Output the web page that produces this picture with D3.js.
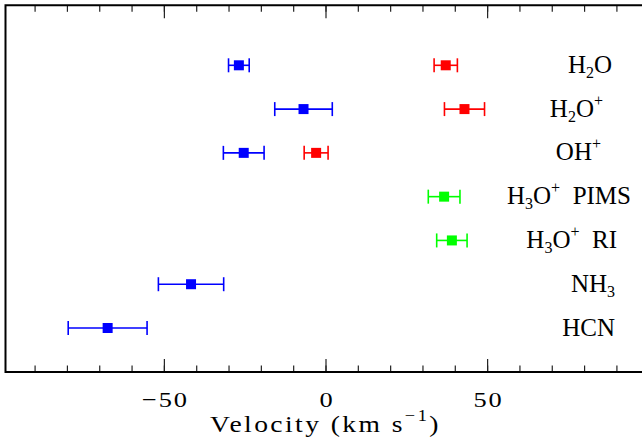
<!DOCTYPE html>
<html>
<head>
<meta charset="utf-8">
<script src="https://cdn.jsdelivr.net/npm/d3@7"></script>
<style>
  html, body { margin: 0; padding: 0; background: #fff; }
  svg { display: block; }
  text { font-family: "Liberation Serif", "Times New Roman", serif; fill: #000; }
</style>
</head>
<body>
<svg id="chart" width="642" height="444"></svg>
<script>
// Species observed, top to bottom
const species = ["H2O", "H2O+", "OH+", "H3O+  PIMS", "H3O+  RI", "NH3", "HCN"];

// Blue-shifted component: velocity and half-width (km/s)
const blueVelocity = [-26.8, -6.8, -25.3, null, null, -41.6, -67.4];
const blueError    = [3.2, 8.9, 6.3, null, null, 10.1, 12.2];

// Red-shifted component
const redVelocity  = [37.2, 43.0, -2.9, null, null, null, null];
const redError     = [3.6, 6.2, 3.7, null, null, null, null];

// H3O+ measurements
const greenVelocity = [null, null, null, 36.7, 39.1, null, null];
const greenError    = [null, null, null, 4.9, 4.7, null, null];

// Axis ticks
const majorTicks = [-50, 0, 50];
const minorTicks = [-90, -80, -70, -60, -50, -40, -30, -20, -10, 0, 10, 20, 30, 40, 50, 60, 70, 80, 90];
const xTitle = "Velocity (km s";
const xTitleExp = "\u22121";

// Build one flat table of measurements
const series = [
  { color: "#0000ff", v: blueVelocity, e: blueError },
  { color: "#ff0000", v: redVelocity, e: redError },
  { color: "#00ff00", v: greenVelocity, e: greenError }
];
const points = [];
series.forEach(s => s.v.forEach((v, i) => {
  if (v != null) points.push({ species: species[i], v, e: s.e[i], color: s.color });
}));

const svg = d3.select("#chart");
const frameL = 5.5, frameR = 645.5, frameT = 5.3, frameB = 372;

const x = d3.scaleLinear().domain([-99, 99]).range([frameL, frameR]);
const y = d3.scalePoint().domain(species).range([65.3, 328]);

// Ticks on the top and bottom frames, pointing inward
function tickAxis(axisFn, vals, size, ypos) {
  const g = svg.append("g")
    .attr("transform", `translate(0,${ypos})`)
    .call(axisFn(x).tickValues(vals).tickSize(size).tickFormat(""));
  g.select(".domain").remove();
  g.selectAll(".tick line").attr("stroke", "#222").attr("stroke-width", 1.2);
  return g;
}
tickAxis(d3.axisBottom, minorTicks, 6.5, frameT);
tickAxis(d3.axisBottom, majorTicks, 13, frameT);
tickAxis(d3.axisTop, minorTicks, 6.5, frameB);
tickAxis(d3.axisTop, majorTicks, 13, frameB);

// Tick labels
const lab = svg.append("g")
  .attr("transform", `translate(0,${frameB})`)
  .call(d3.axisBottom(x).tickValues(majorTicks).tickSize(0).tickFormat(d3.format("d")));
lab.select(".domain").remove();
lab.selectAll(".tick text")
  .attr("x", 0.8).attr("y", 35).attr("dy", null)
  .attr("font-family", "Liberation Serif")
  .attr("font-size", 22)
  .attr("fill", "#000")
  .style("letter-spacing", "1.6px")
  .attr("transform", "scale(1.2,1)");

// Frame (right side runs past the edge)
svg.append("path")
  .attr("d", `M${frameR},${frameT}H${frameL}V${frameB}H${frameR}`)
  .attr("fill", "none").attr("stroke", "#000").attr("stroke-width", 2);

// Axis title
const title = svg.append("text")
  .attr("transform", `translate(${x(0)},432) scale(1.15,1)`)
  .attr("text-anchor", "middle")
  .attr("font-size", 24)
  .style("letter-spacing", "2.1px");
title.append("tspan").text(xTitle);
title.append("tspan").attr("font-size", 16).attr("dy", -11).text(xTitleExp);
title.append("tspan").attr("dy", 11).text(")");

// Error bars
const cap = 7;
const bars = svg.append("g").selectAll("g").data(points).join("g")
  .attr("stroke", d => d.color).attr("stroke-width", 1.6);
bars.append("line")
  .attr("x1", d => x(d.v - d.e)).attr("x2", d => x(d.v + d.e))
  .attr("y1", d => y(d.species)).attr("y2", d => y(d.species));
bars.append("line")
  .attr("x1", d => x(d.v - d.e)).attr("x2", d => x(d.v - d.e))
  .attr("y1", d => y(d.species) - cap).attr("y2", d => y(d.species) + cap);
bars.append("line")
  .attr("x1", d => x(d.v + d.e)).attr("x2", d => x(d.v + d.e))
  .attr("y1", d => y(d.species) - cap).attr("y2", d => y(d.species) + cap);

// Square markers
const half = 5;
svg.append("g").selectAll("rect").data(points).join("rect")
  .attr("x", d => x(d.v) - half).attr("y", d => y(d.species) - half)
  .attr("width", 2 * half).attr("height", 2 * half)
  .attr("fill", d => d.color);

// Species labels: digits after a letter become subscripts, "+" a superscript
const labelEnd = { "H2O": 612, "H2O+": 603, "OH+": 601, "H3O+  PIMS": 631, "H3O+  RI": 617, "NH3": 615, "HCN": 615 };
function tokens(s) {
  const out = [];
  for (let i = 0; i < s.length; i++) {
    const c = s[i];
    let kind = "n";
    if (/[0-9]/.test(c) && i > 0 && /[A-Za-z]/.test(s[i - 1])) kind = "sub";
    else if (c === "+") kind = "sup";
    const last = out[out.length - 1];
    if (last && last.kind === kind) last.t += c; else out.push({ kind, t: c });
  }
  return out;
}
species.forEach(sp => {
  const t = svg.append("text")
    .attr("x", labelEnd[sp]).attr("y", y(sp) + 7.5)
    .attr("text-anchor", "end")
    .attr("font-size", 25)
    .style("white-space", "pre");
  let shift = 0;
  tokens(sp).forEach(tok => {
    const target = tok.kind === "sub" ? 5 : tok.kind === "sup" ? -11 : 0;
    const ts = t.append("tspan").text(tok.t);
    if (target !== shift) ts.attr("dy", target - shift);
    if (tok.kind !== "n") ts.attr("font-size", 16);
    shift = target;
  });
});
</script>
</body>
</html>
